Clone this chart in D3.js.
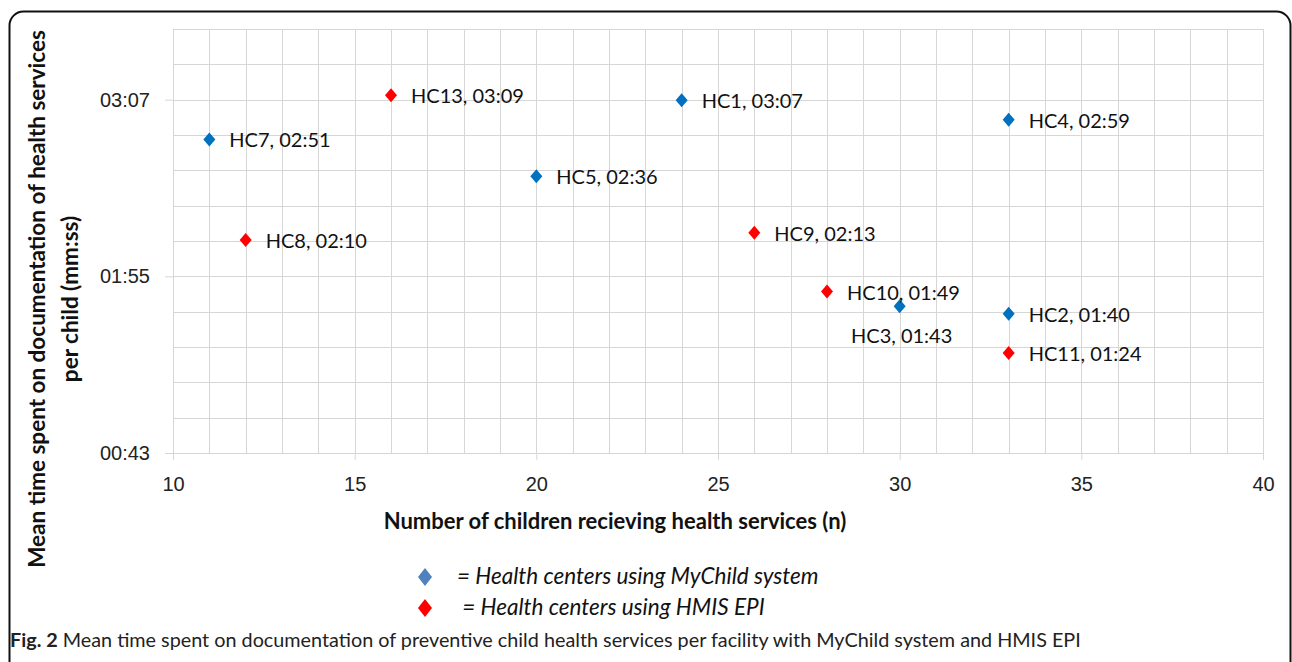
<!DOCTYPE html>
<html>
<head>
<meta charset="utf-8">
<script src="https://cdn.jsdelivr.net/npm/d3@7"></script>
<style>
  body { margin: 0; background: #fff; }
  svg { display: block; font-family: Lato, "Open Sans", sans-serif; }
  .grid line { stroke: #d6d6d6; stroke-width: 1; }
  .tick-label { font-size: 20px; fill: #222; }
  .pt-label { font-size: 20px; fill: #111; }
</style>
</head>
<body>
<div id="chart"></div>
<script>
// MyChild system health centres
var myChildNames = ["HC1", "HC2", "HC3", "HC4", "HC5", "HC7"]
var myChildN = [24, 33, 30, 33, 20, 11]
var myChildTime = ["03:07", "01:40", "01:43", "02:59", "02:36", "02:51"]

// HMIS EPI health centres
var hmisNames = ["HC8", "HC9", "HC10", "HC11", "HC13"]
var hmisN = [12, 26, 28, 33, 16]
var hmisTime = ["02:10", "02:13", "01:49", "01:24", "03:09"]

// axis settings (seconds, as Excel time axis: 0.0005 .. 0.0025 day)
var xTicks = [10, 15, 20, 25, 30, 35, 40]
var yMin = 43.2, yMax = 216, yMajor = 72, yMinor = 14.4

var W = 1292, H = 662
var plotLeft = 173, plotTop = 29, pw = 1090, ph = 424

function toSec(s) {
  var p = s.split(':')
  return (+p[0]) * 60 + (+p[1])
}
function fmt(sec) {
  var s = Math.round(sec)
  return d3.format("02d")(Math.floor(s / 60)) + ":" + d3.format("02d")(s % 60)
}

var series = [
  { names: myChildNames, n: myChildN, t: myChildTime, color: "#0070c0" },
  { names: hmisNames, n: hmisN, t: hmisTime, color: "#ff0000" }
]

var svg = d3.select("#chart").append("svg")
  .attr("width", W)
  .attr("height", H)

// outer rounded frame
svg.append("rect")
  .attr("x", 9.5).attr("y", 11.5)
  .attr("width", 1281).attr("height", 700)
  .attr("rx", 14)
  .attr("fill", "none")
  .attr("stroke", "#111")
  .attr("stroke-width", 2)

var x = d3.scaleLinear().domain([10, 40]).range([plotLeft, plotLeft + pw])
var y = d3.scaleLinear().domain([yMin, yMax]).range([plotTop + ph, plotTop])

var g = svg.append("g")

// grid
var grid = g.append("g").attr("class", "grid")
grid.selectAll(".vx").data(d3.range(10, 40.01, 1)).enter().append("line")
  .attr("x1", function(d) { return Math.round(x(d)) + 0.5 })
  .attr("x2", function(d) { return Math.round(x(d)) + 0.5 })
  .attr("y1", plotTop).attr("y2", plotTop + ph)
grid.selectAll(".hy").data(d3.range(yMin, yMax + 0.01, yMinor)).enter().append("line")
  .attr("y1", function(d) { return Math.round(y(d)) + 0.5 })
  .attr("y2", function(d) { return Math.round(y(d)) + 0.5 })
  .attr("x1", plotLeft).attr("x2", plotLeft + pw)

// axes via d3
var yTicks = d3.range(yMin, yMax, yMajor)
var yAxis = d3.axisLeft(y).tickValues(yTicks).tickFormat(fmt).tickSize(8).tickPadding(15)
var xAxis = d3.axisBottom(x).tickValues(xTicks).tickFormat(d3.format("d")).tickSize(7).tickPadding(13)

var ya = g.append("g").attr("transform", "translate(" + plotLeft + ",0)").call(yAxis)
var xa = g.append("g").attr("transform", "translate(0," + (plotTop + ph) + ")").call(xAxis)
;[ya, xa].forEach(function(a) {
  a.select(".domain").remove()
  a.selectAll(".tick line").attr("stroke", "#d6d6d6")
  a.selectAll(".tick text").attr("class", "tick-label").attr("font-family", null).attr("font-size", null)
})
xa.selectAll(".tick text").attr("dy", "0.9em")

// points
series.forEach(function(s) {
  var pts = s.names.map(function(nm, i) {
    return { name: nm, n: s.n[i], sec: toSec(s.t[i]), label: nm + ", " + s.t[i] }
  })
  var grp = g.append("g")
  grp.selectAll("path").data(pts).enter().append("path")
    .attr("d", "M0,-7L6,0L0,7L-6,0Z")
    .attr("transform", function(d) { return "translate(" + x(d.n) + "," + y(d.sec) + ")" })
    .attr("fill", s.color)
  grp.selectAll("text").data(pts).enter().append("text")
    .attr("class", "pt-label")
    .attr("x", function(d) { return d.name == "HC3" ? x(d.n) + 2 : x(d.n) + 20 })
    .attr("y", function(d) { return d.name == "HC3" ? y(d.sec) + 37 : y(d.sec) + 8 })
    .attr("text-anchor", function(d) { return d.name == "HC3" ? "middle" : "start" })
    .text(function(d) { return d.label })
})

// axis titles
svg.append("text")
  .attr("x", 615).attr("y", 529)
  .attr("text-anchor", "middle")
  .attr("font-weight", "bold").attr("font-size", 22)
  .attr("fill", "#111")
  .text("Number of children recieving health services (n)")

var yt = svg.append("text")
  .attr("transform", "translate(45,299) rotate(-90)")
  .attr("text-anchor", "middle")
  .attr("font-weight", "bold").attr("font-size", 22.5)
  .attr("fill", "#111")
yt.append("tspan").attr("x", 0).attr("y", 0).text("Mean time spent on documentation of health services")
yt.append("tspan").attr("x", 0).attr("y", 33).text("per child (mm:ss)")

// legend
var legend = [
  { color: "#4f81bd", text: "= Health centers using MyChild system", tx: 457, cy: 577 },
  { color: "#ff0000", text: " = Health centers using HMIS EPI", tx: 457, cy: 608 }
]
var lg = svg.append("g")
lg.selectAll("path").data(legend).enter().append("path")
  .attr("d", "M0,-9L7,0L0,9L-7,0Z")
  .attr("transform", function(d) { return "translate(425," + d.cy + ")" })
  .attr("fill", function(d) { return d.color })
lg.selectAll("text").data(legend).enter().append("text")
  .attr("x", function(d) { return d.tx })
  .attr("y", function(d) { return d.cy + 7 })
  .attr("font-style", "italic").attr("font-size", 22.5)
  .attr("fill", "#111")
  .attr("xml:space", "preserve")
  .style("white-space", "pre")
  .text(function(d) { return d.text })

// caption
var cap = svg.append("text")
  .attr("x", 10).attr("y", 647)
  .attr("font-size", 19.8)
  .attr("fill", "#222")
cap.append("tspan").attr("font-weight", "bold").text("Fig. 2")
cap.append("tspan").text(" Mean time spent on documentation of preventive child health services per facility with MyChild system and HMIS EPI")
</script>
</body>
</html>
